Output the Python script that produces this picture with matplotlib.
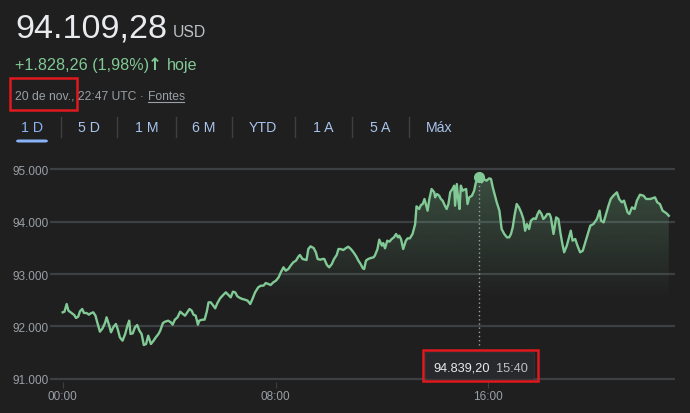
import numpy as np
import matplotlib
matplotlib.use("Agg")
import matplotlib.pyplot as plt
from matplotlib.patches import Rectangle, FancyBboxPatch

plt.rcParams['font.family'] = ['Liberation Sans', 'DejaVu Sans']

# minutes since 00:00 and price (USD)
minutes = [0, 4, 9, 13, 20, 26, 30, 35, 39, 44, 48, 54, 59, 63, 69, 74, 78, 84, 90, 96,
           99, 105, 109, 114, 120, 124, 129, 135, 141, 146, 150, 153, 158, 163, 168, 173, 178, 183, 188, 193,
           199, 205, 210, 216, 220, 226, 231, 238, 244, 248, 253, 259, 265, 271, 276, 281, 286, 291, 295, 300,
           305, 308, 315, 320, 325, 329, 334, 338, 344, 349, 355, 362, 368, 374, 379, 384, 389, 394, 400, 405,
           411, 417, 423, 428, 434, 441, 447, 453, 458, 464, 469, 475, 481, 487, 492, 498, 503, 509, 514, 520,
           526, 532, 535, 541, 547, 550, 554, 559, 566, 571, 575, 581, 586, 590, 596, 601, 607, 612, 618, 622,
           627, 633, 638, 644, 650, 656, 662, 667, 672, 677, 680, 684, 689, 695, 701, 704, 710, 714, 720, 723,
           727, 732, 737, 742, 747, 752, 756, 759, 763, 768, 774, 778, 783, 789, 795, 798, 804, 808, 812, 816,
           820, 823, 827, 832, 838, 840, 844, 849, 853, 857, 862, 866, 870, 874, 879, 883, 885, 889, 892, 895,
           898, 902, 906, 910, 913, 917, 923, 928, 932, 940, 945, 950, 956, 962, 966, 970, 974, 979, 985, 990,
           996, 1002, 1007, 1011, 1015, 1019, 1024, 1029, 1034, 1039, 1043, 1047, 1052, 1056, 1062, 1067, 1071, 1075, 1080, 1084,
           1088, 1093, 1098, 1101, 1107, 1113, 1118, 1123, 1127, 1131, 1137, 1141, 1146, 1150, 1156, 1161, 1167, 1173, 1182, 1190,
           1197, 1205, 1211, 1214, 1220, 1231, 1236, 1242, 1250, 1255, 1261, 1266, 1274, 1278, 1284, 1290, 1295, 1302, 1310, 1316,
           1325, 1336, 1341, 1347, 1353, 1362, 1367]
prices = [92270, 92282, 92428, 92301, 92257, 92219, 92162, 92187, 92289, 92333, 92257, 92257, 92225, 92250, 92270, 92206, 92079, 91901, 91965, 92079,
          92175, 92016, 91889, 91984, 92048, 91952, 91793, 91730, 91857, 92016, 92111, 91857, 91869, 91984, 92028, 91920, 91857, 91647, 91666, 91825,
          91666, 91730, 91793, 91857, 91920, 92066, 92092, 92111, 92079, 92035, 92130, 92175, 92282, 92238, 92206, 92270, 92333, 92301, 92225, 92206,
          92035, 92111, 92130, 92130, 92282, 92460, 92460, 92416, 92346, 92447, 92536, 92600, 92651, 92600, 92555, 92663, 92651, 92574, 92543, 92524,
          92511, 92492, 92428, 92524, 92651, 92746, 92778, 92778, 92828, 92809, 92790, 92841, 92873, 92936, 93032, 93127, 93063, 93095, 93158, 93222,
          93254, 93336, 93362, 93286, 93273, 93266, 93476, 93527, 93495, 93413, 93286, 93273, 93286, 93286, 93171, 93127, 93190, 93286, 93362, 93476,
          93476, 93457, 93489, 93520, 93476, 93412, 93336, 93254, 93190, 93108, 93095, 93254, 93286, 93305, 93317, 93349, 93476, 93654, 93540, 93590,
          93489, 93635, 93616, 93666, 93698, 93762, 93698, 93730, 93666, 93476, 93635, 93679, 93679, 93762, 93952, 94289, 94238, 94314, 94333, 94429,
          94302, 94206, 94429, 94619, 94556, 94460, 94524, 94492, 94429, 94397, 94302, 94238, 94333, 94556, 94619, 94683, 94302, 94714, 94429, 94238,
          94683, 94587, 94606, 94619, 94333, 94460, 94492, 94587, 94746, 94839, 94746, 94810, 94778, 94822, 94810, 94651, 94524, 94365, 94206, 93857,
          93762, 93698, 93698, 93762, 93889, 94111, 94333, 94270, 94175, 94048, 93825, 93952, 93857, 94016, 94060, 94048, 94143, 94206, 94143, 94048,
          94079, 94143, 94143, 94079, 93762, 94079, 94048, 93762, 93571, 93413, 93540, 93666, 93825, 93635, 93666, 93540, 93413, 93444, 93698, 93921,
          93952, 94048, 94206, 94016, 93984, 94302, 94429, 94492, 94556, 94429, 94365, 94397, 94175, 94143, 94270, 94238, 94397, 94511, 94492, 94429,
          94429, 94460, 94365, 94333, 94206, 94155, 94109]

y_ticks = [91000, 92000, 93000, 94000, 95000]
y_labels = ["91.000", "92.000", "93.000", "94.000", "95.000"]
x_ticks = [0, 480, 960]
x_labels = ["00:00", "08:00", "16:00"]
tabs = ["1 D", "5 D", "1 M", "6 M", "YTD", "1 A", "5 A", "Máx"]

peak_min = 940
peak_val = 94839.20

BG = "#1f1f1f"
GREEN = "#81c995"
GRID = "#3c4043"
GRAY = "#9aa0a6"

fig = plt.figure(figsize=(6.9, 4.14), dpi=100, facecolor=BG)
W, H = 690, 414

def fx(px):
    return px / W

def fy(py):
    return 1 - py / H

# header text
fig.text(fx(15), fy(37), "94.109,28", color="#e8eaed", fontsize=24.6, va="baseline")
fig.text(fx(173), fy(37), "USD", color="#bdc1c6", fontsize=11.3, va="baseline")
fig.text(fx(15), fy(70), "+1.828,26 (1,98%)", color=GREEN, fontsize=11.6, va="baseline")
fig.text(fx(148), fy(70), "\u2191", color=GREEN, fontsize=12, fontweight="bold",
         va="baseline", family="DejaVu Sans")
fig.text(fx(167), fy(70), "hoje", color=GREEN, fontsize=11.6, va="baseline")
fig.text(fx(15), fy(100), "20 de nov., 22:47 UTC \u00b7", color=GRAY, fontsize=8.7, va="baseline")
fig.text(fx(148), fy(100), "Fontes", color=GRAY, fontsize=8.7, va="baseline")
fig.add_artist(plt.Line2D([fx(148), fx(184)], [fy(102.5), fy(102.5)], color=GRAY, lw=0.8))
fig.add_artist(Rectangle((fx(9.5), fy(111)), fx(67), 32 / H, fill=False,
                         edgecolor="#e0191f", lw=1.8))

# period tabs
tab_x = [31.7, 88.7, 146.7, 203.8, 263.3, 323.3, 380.3, 439.2]
for i, (t, x) in enumerate(zip(tabs, tab_x)):
    fig.text(fx(x), fy(128), t, color="#8ab4f8" if i == 0 else "#a8c4ec",
             fontsize=10.2, ha="center", va="center")
for x in [60.7, 117.3, 175.7, 232.3, 294.7, 351.7, 409.3]:
    fig.add_artist(plt.Line2D([fx(x), fx(x)], [fy(118), fy(138)], color=GRID, lw=1))
fig.add_artist(FancyBboxPatch((fx(16), fy(143.5)), fx(32), 3 / H,
                              boxstyle="round,pad=0,rounding_size=0.004",
                              facecolor="#8ab4f8", edgecolor="none"))

# chart
ax = fig.add_axes([fx(50), fy(382.6), fx(625), (382.6 - 167.4) / H])
ax.set_facecolor(BG)
ax.set_xlim(-28.6, 1381)
ax.set_ylim(90950, 95050)
for s in ax.spines.values():
    s.set_visible(False)
for v in y_ticks:
    ax.axhline(v, color=GRID, lw=1.6, zorder=1)
ax.set_yticks(y_ticks, y_labels)
ax.set_xticks(x_ticks, x_labels)
ax.tick_params(axis="y", length=0, colors=GRAY, labelsize=8.5, pad=1)
ax.tick_params(axis="x", length=4, width=0.8, colors=GRID, labelcolor=GRAY,
               labelsize=8.5, pad=2, direction="out")

# gradient fill under the line
poly = ax.fill_between(minutes, prices, 90950, color="none", lw=0)
grad = np.zeros((256, 1, 4))
g = np.linspace(0, 1, 256)
grad[:, 0, 0] = 0x81 / 255
grad[:, 0, 1] = 0xc9 / 255
grad[:, 0, 2] = 0x95 / 255
grad[:, 0, 3] = np.clip((g - 0.38) / 0.62, 0, 1) * 0.3
im = ax.imshow(grad, extent=[0, 1367, 90950, 95050], origin="lower", aspect="auto", zorder=2)
im.set_clip_path(poly.get_paths()[0], transform=ax.transData)

ax.plot(minutes, prices, color=GREEN, lw=1.7, zorder=3, solid_joinstyle="round")
ax.plot([peak_min], [peak_val], "o", color=GREEN, ms=7, zorder=4)
ax.plot([peak_min, peak_min], [peak_val, 91650], color=GRAY, lw=1, ls=(0, (1, 2)), zorder=3)

# tooltip
fig.add_artist(FancyBboxPatch((fx(425.5), fy(380)), fx(109), 27 / H,
                              boxstyle="round,pad=0,rounding_size=0.005",
                              facecolor="#28292c", edgecolor="#303134", lw=0.8))
fig.text(fx(433), fy(369), "94.839,20", color="#e8eaed", fontsize=9.2, va="center")
fig.text(fx(496), fy(369), "15:40", color="#bdc1c6", fontsize=9.2, va="center")
fig.add_artist(Rectangle((fx(423), fy(382)), fx(114.5), 31.5 / H, fill=False,
                         edgecolor="#e0191f", lw=1.8))

fig.savefig("out.png", dpi=100, facecolor=BG)
